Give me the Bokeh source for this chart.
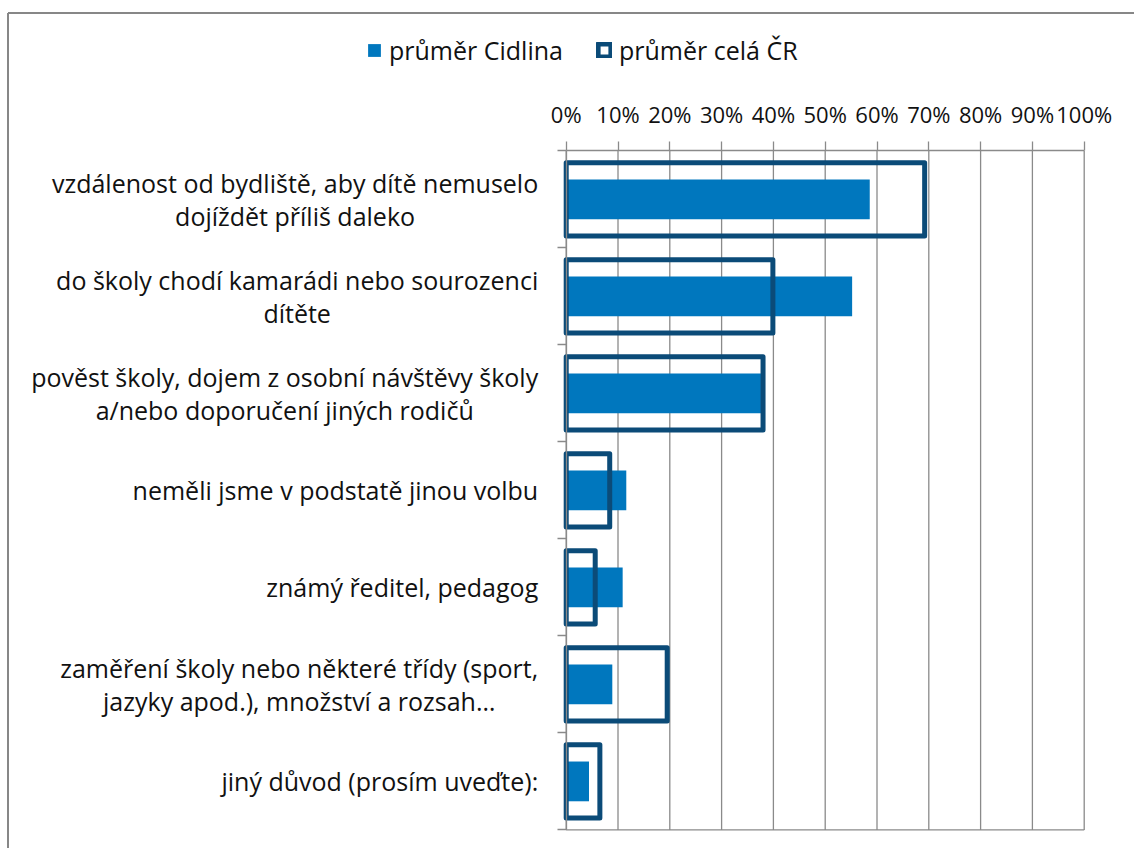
from bokeh.plotting import figure
from bokeh.models import (LinearAxis, FixedTicker, Range1d, Legend, LegendItem,
                          ColumnDataSource)
from bokeh.core.properties import value
from bokeh.embed import file_html
from bokeh.resources import INLINE

# ---------------- data ----------------
categories = [
    "vzdálenost od bydliště, aby dítě nemuselo\ndojíždět příliš daleko",
    "do školy chodí kamarádi nebo sourozenci\ndítěte",
    "pověst školy, dojem z osobní návštěvy školy\na/nebo doporučení jiných rodičů",
    "neměli jsme v podstatě jinou volbu",
    "známý ředitel, pedagog",
    "zaměření školy nebo některé třídy (sport,\njazyky apod.), množství a rozsah…",
    "jiný důvod (prosím uveďte):",
]
cidlina = [58.6, 55.2, 37.6, 11.6, 10.9, 8.9, 4.4]
cela_cr = [69.2, 39.9, 38.0, 8.4, 5.6, 19.5, 6.5]
series_names = ["průměr Cidlina", "průměr celá ČR"]
tick_values = [0, 10, 20, 30, 40, 50, 60, 70, 80, 90, 100]
tick_labels = ["0%", "10%", "20%", "30%", "40%", "50%", "60%", "70%", "80%", "90%", "100%"]

# ---------------- layout constants ----------------
W, H = 1134, 848
X0_PX = 565.7          # px of 0 %
PX_PER = 5.18          # px per 1 %
TOP_PX = 150.4         # px of top of plot area
BAND_PX = 97.0         # px per category band
BORDER_X_PX = 7.5
BORDER_Y_PX = 12.5

n = len(categories)
ys = list(range(n - 1, -1, -1))
y_top = max(ys) + 0.5
y_bot = min(ys) - 0.5

x_start = -X0_PX / PX_PER
x_end = (W - X0_PX) / PX_PER
y_end = y_top + TOP_PX / BAND_PX
y_start = y_top - (H - TOP_PX) / BAND_PX

FONT = "Open Sans"
TXT = "#111111"
GRID = "#8A8A8A"
BLUE = "#0077BE"
NAVY = "#0B4B78"

p = figure(width=W, height=H, x_range=Range1d(x_start, x_end),
           y_range=Range1d(y_start, y_end), output_backend="svg",
           toolbar_location=None, min_border=0, x_axis_location=None,
           y_axis_location=None, outline_line_color=None)
p.grid.visible = False
p.background_fill_color = "white"
p.border_fill_color = "white"

# outer chart border (top and left visible, the rest is cropped)
bx = (BORDER_X_PX - X0_PX) / PX_PER
by = y_top + (TOP_PX - BORDER_Y_PX) / BAND_PX
p.segment(x0=[bx, bx], y0=[by, by], x1=[x_end, bx], y1=[by, y_start],
          line_color="#878787", line_width=2)

# gridlines
gsrc = ColumnDataSource(dict(x=tick_values, y0=[y_bot] * len(tick_values),
                             y1=[y_top] * len(tick_values)))
p.segment(x0="x", y0="y0", x1="x", y1="y1", source=gsrc,
          line_color=GRID, line_width=1.3)
# bottom line of plot area
p.segment(x0=[tick_values[0]], y0=[y_bot], x1=[tick_values[-1]], y1=[y_bot],
          line_color=GRID, line_width=1.3)

src = ColumnDataSource(dict(y=ys, cid=cidlina, cr=cela_cr, cat=categories))
r1 = p.hbar(y="y", left=0, right="cid", height=0.41, source=src,
            fill_color=BLUE, line_color=None)
r2 = p.hbar(y="y", left=0, right="cr", height=0.755, source=src,
            fill_color=None, line_color=NAVY, line_width=5, line_join="round")

# category labels
p.text(x=0, y="y", text="cat", source=src, x_offset=-28,
       anchor=value("center_right"), text_align="center",
       text_baseline="middle", text_font=value(FONT),
       text_font_size="25px", text_color=TXT, text_line_height=0.95)

# left axis (category boundary ticks)
yax = LinearAxis(fixed_location=0,
                 ticker=FixedTicker(ticks=[y - 0.5 for y in ys] + [y_top]),
                 bounds=(y_bot, y_top), major_tick_out=9, major_tick_in=0,
                 minor_tick_out=0, minor_tick_in=0,
                 major_label_text_font_size="1px", major_label_text_alpha=0,
                 axis_line_color=GRID, major_tick_line_color=GRID,
                 axis_line_width=1.3, major_tick_line_width=1.3)
p.add_layout(yax, "left")

# top value axis
xax = LinearAxis(fixed_location=y_top, ticker=FixedTicker(ticks=tick_values),
                 bounds=(tick_values[0], tick_values[-1]),
                 major_label_overrides=dict(zip(tick_values, tick_labels)),
                 major_tick_out=9, major_tick_in=0, minor_tick_out=0,
                 minor_tick_in=0, major_label_standoff=13,
                 major_label_text_font=FONT, major_label_text_font_size="22px",
                 major_label_text_color=TXT, axis_line_color=GRID,
                 major_tick_line_color=GRID, axis_line_width=1.3,
                 major_tick_line_width=1.3)
p.add_layout(xax, "above")

legend = Legend(items=[LegendItem(label=series_names[0], renderers=[r1]),
                       LegendItem(label=series_names[1], renderers=[r2])],
                orientation="horizontal", location=(366, H - 67),
                glyph_width=16, glyph_height=16, label_standoff=7, spacing=33,
                padding=0, margin=0, border_line_color=None,
                background_fill_alpha=0, label_text_font=FONT,
                label_text_font_size="25px", label_text_color=TXT,
                label_height=26)
p.add_layout(legend)

open("out.html", "w").write(file_html(p, INLINE))
